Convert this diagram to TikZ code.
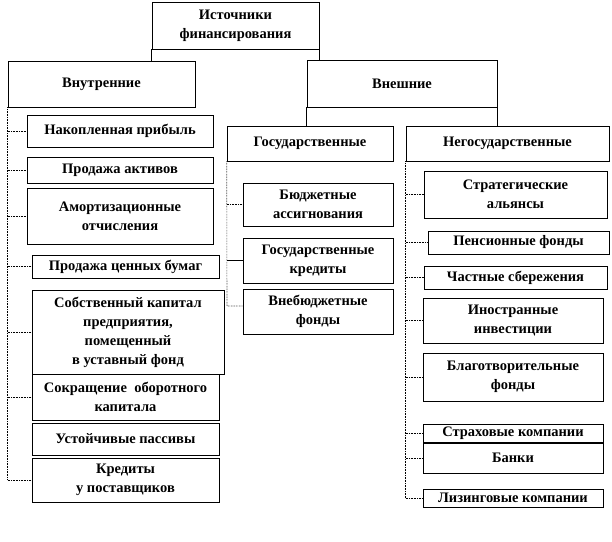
\documentclass[tikz,border=0pt]{standalone}
\usepackage{fontspec}
\setmainfont{Liberation Serif}
\tikzset{
  box/.style={draw, line width=0.6pt, align=center, inner sep=1pt,
    font=\fontsize{14.5}{19}\selectfont\bfseries},
  link/.style={densely dotted, line width=0.6pt},
  trunk/.style={line width=0.6pt}
}
\begin{document}
\begin{tikzpicture}[x=1pt, y=-1pt]
  \useasboundingbox (0,0) rectangle (612,541);

  % Верхний уровень
  \node[box, minimum width=167pt, minimum height=47pt] (src) at (235.5,25.5) {Источники\\финансирования};
  \node[box, minimum width=187pt, minimum height=46pt] (inner) at (101.5,84) {Внутренние};
  \node[box, minimum width=190pt, minimum height=47pt] (outer) at (402,83.5) {Внешние};
  \draw[trunk] (src.south west) -- (src.south west |- inner.north);
  \draw[trunk] (src.south east) -- (src.south east |- outer.north);

  % Внешние источники
  \node[box, minimum width=166pt, minimum height=35pt] (gov) at (310,143.5) {Государственные};
  \node[box, minimum width=203pt, minimum height=35pt] (nongov) at (507.5,143.5) {Негосударственные};
  \draw[trunk] (outer.south west) -- (outer.south west |- gov.north);
  \draw[trunk] (outer.south east) -- (outer.south east |- nongov.north);

  % Внутренние источники
  \node[box, minimum width=186pt, minimum height=32pt] (acc) at (120,131) {Накопленная прибыль};
  \node[box, minimum width=186pt, minimum height=26pt] (assets) at (120,170) {Продажа активов};
  \node[box, minimum width=186pt, minimum height=56pt] (amort) at (120,216) {Амортизационные\\отчисления};
  \node[box, minimum width=187pt, minimum height=23pt] (secur) at (125.5,266.5) {Продажа ценных бумаг};
  \node[box, minimum width=192pt, minimum height=84pt] (equity) at (128,332) {Собственный капитал\\предприятия,\\помещенный\\в уставный фонд};
  \node[box, minimum width=187pt, minimum height=46pt] (capital) at (125.5,397) {Сокращение~ оборотного\\капитала};
  \node[box, minimum width=187pt, minimum height=32pt] (liab) at (125.5,439) {Устойчивые пассивы};
  \node[box, minimum width=187pt, minimum height=44pt] (supp) at (125.5,480) {Кредиты\\у поставщиков};

  \coordinate (innerend) at (inner.south west |- supp.west);
  \draw[link] (inner.south west) -- (innerend);
  \foreach \n in {acc, assets, amort, secur, equity, capital, supp}
    \draw[link] (inner.south west |- \n.west) -- (\n.west);

  % Государственные
  \node[box, minimum width=150pt, minimum height=43pt] (budget) at (318,204.5) {Бюджетные\\ассигнования};
  \node[box, minimum width=150pt, minimum height=45pt] (govcred) at (318,260.5) {Государственные\\кредиты};
  \node[box, minimum width=150pt, minimum height=45pt] (extra) at (318,311.5) {Внебюджетные\\фонды};

  \coordinate (govend) at (227,306);
  \draw[link] (gov.south west) -- (govend) -- (govend -| extra.west);
  \draw[link] (gov.south west |- budget.west) -- (budget.west);
  \draw[trunk] (gov.south west |- govcred.west) -- (govcred.west);

  % Негосударственные
  \node[box, minimum width=183pt, minimum height=47pt] (strat) at (515.5,194.5) {Стратегические\\альянсы};
  \node[box, minimum width=181pt, minimum height=23pt] (pens) at (518.5,242.5) {Пенсионные фонды};
  \node[box, minimum width=183pt, minimum height=23pt] (priv) at (515.5,277.5) {Частные сбережения};
  \node[box, minimum width=180pt, minimum height=45pt] (foreign) at (513,320.5) {Иностранные\\инвестиции};
  \node[box, minimum width=180pt, minimum height=48pt] (charity) at (513,377) {Благотворительные\\фонды};
  \node[box, minimum width=180pt, minimum height=18pt] (insur) at (513,433) {Страховые компании};
  \node[box, minimum width=180pt, minimum height=30pt] (banks) at (513,458) {Банки};
  \node[box, minimum width=180pt, minimum height=18pt] (leasing) at (513,498) {Лизинговые компании};

  \coordinate (nongovend) at (nongov.south west |- leasing.west);
  \draw[link] (nongov.south west) -- (nongovend);
  \foreach \n in {strat, pens, priv, foreign, charity, insur, banks, leasing}
    \draw[link] (nongov.south west |- \n.west) -- (\n.west);
\end{tikzpicture}
\end{document}
